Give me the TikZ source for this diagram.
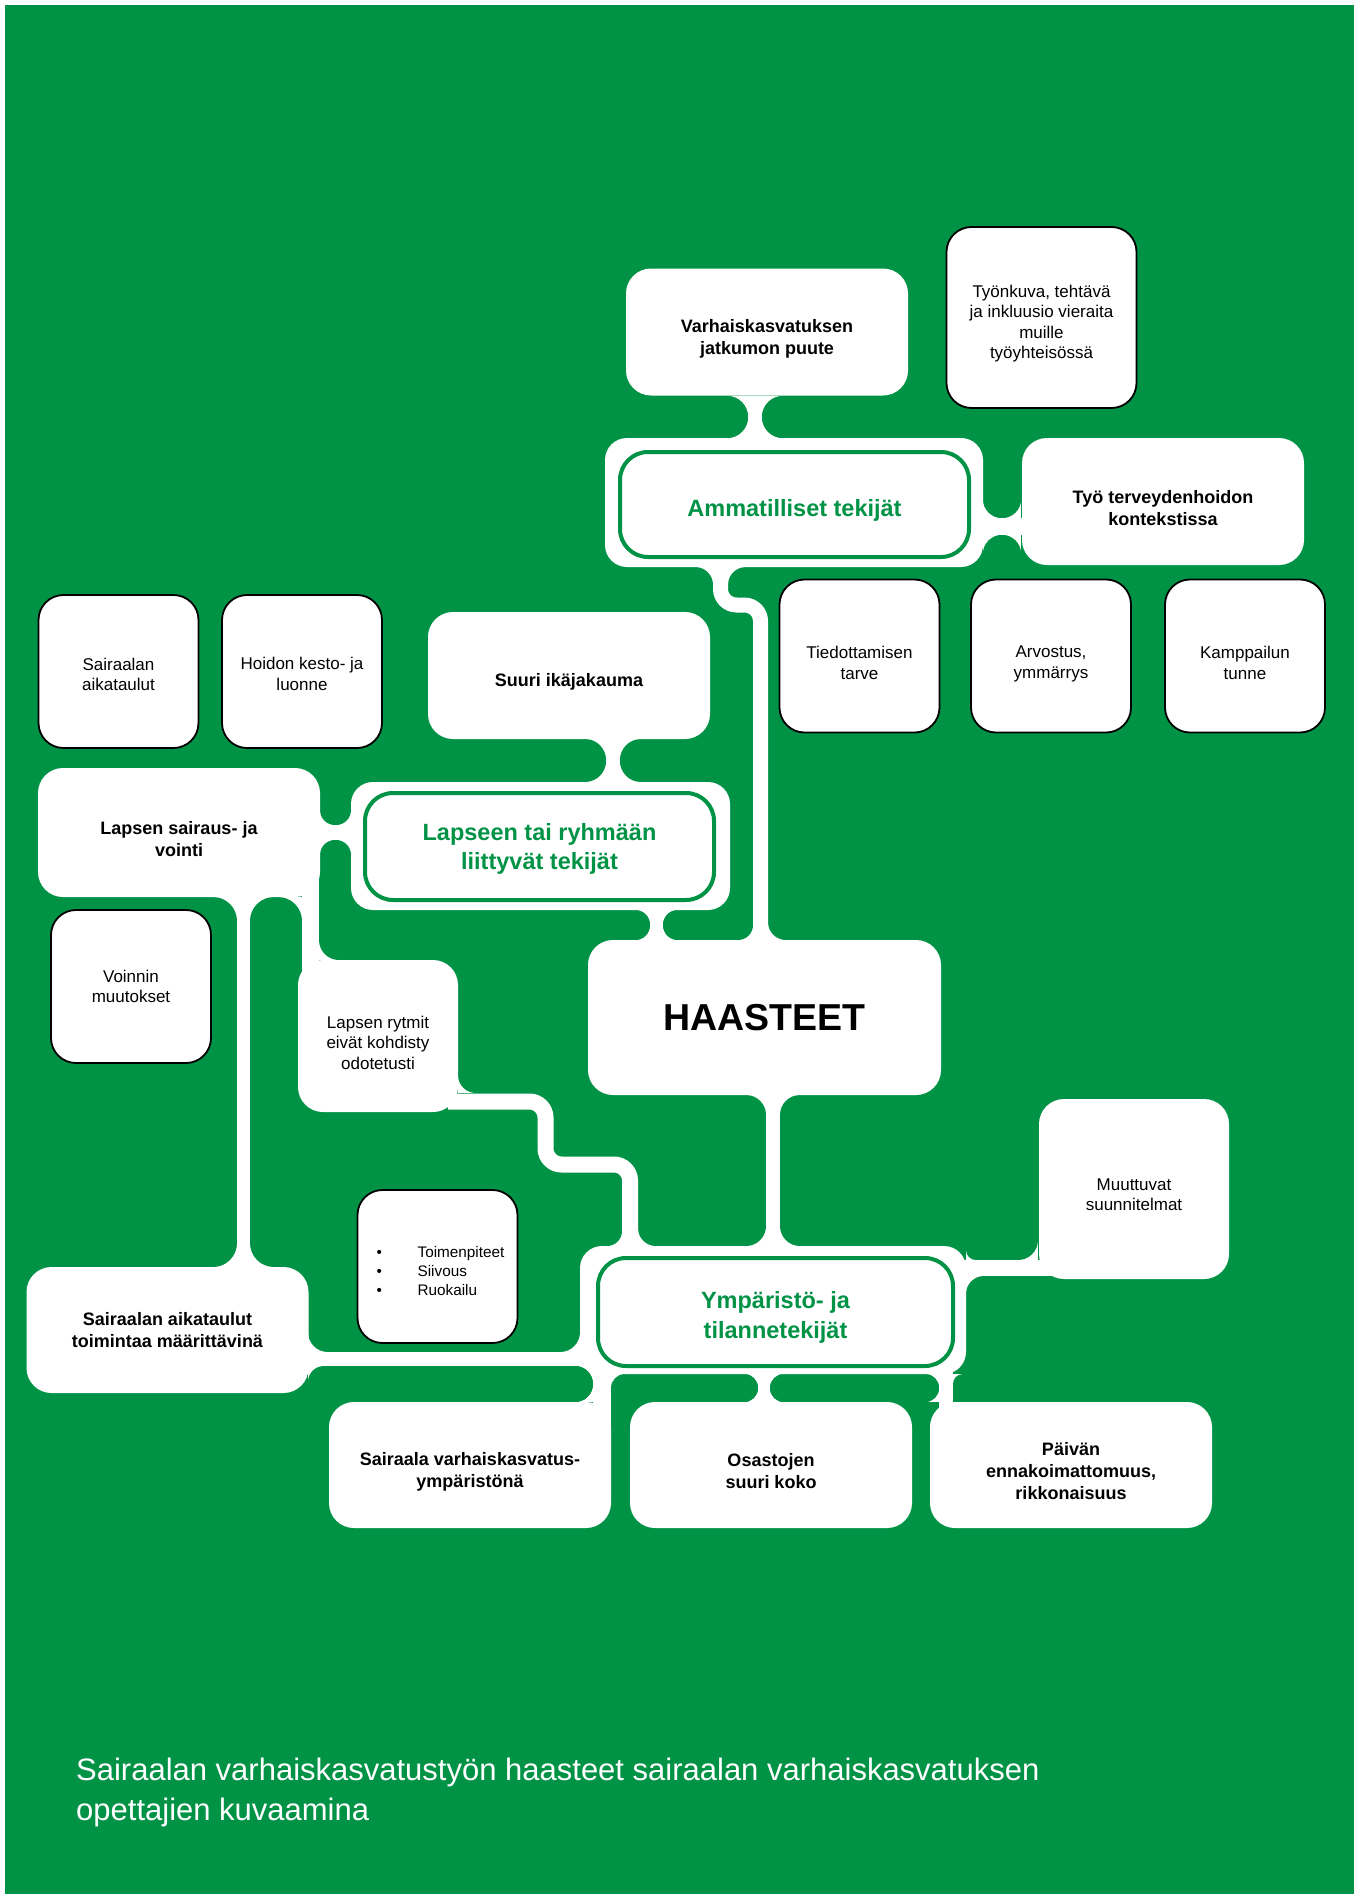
\documentclass[tikz,border=0pt]{standalone}
\usepackage{fontspec}
\setmainfont{Liberation Sans}
\usetikzlibrary{calc}
\definecolor{leaf}{RGB}{0,147,70}
\newcommand{\lift}[1][26]{\rule{0pt}{#1pt}}

\pgfdeclarelayer{base}
\pgfdeclarelayer{links}
\pgfsetlayers{base,links,main}

\tikzstyle{cell}=[inner sep=0pt, outer sep=0pt, align=center, fill=white, rounded corners=25pt, font=\fontsize{17}{20.5}\selectfont]
\tikzstyle{strong}=[cell, font=\fontsize{18}{22}\selectfont\bfseries]
\tikzstyle{ruled}=[cell, draw=black, line width=1.8pt]
\tikzstyle{holder}=[cell, rounded corners=22pt]
\tikzstyle{topic}=[cell, draw=leaf, line width=4pt, rounded corners=28pt, text=leaf, font=\fontsize{23.5}{29.3}\selectfont\bfseries]
\tikzstyle{neck}=[white, line width=14pt]
\tikzstyle{wbox}=[minimum width=282pt, minimum height=127pt]
\tikzstyle{sbox}=[minimum width=160pt, minimum height=153pt]
\tikzstyle{tbox}=[minimum width=190pt, minimum height=181pt]

\begin{document}
\begin{tikzpicture}[x=1pt, y=-1pt]
\useasboundingbox (0,0) rectangle (1353,1894);
\begin{pgfonlayer}{base}
  \fill[white] (0,0) rectangle (1353,1894);
  \fill[leaf] (5,5) rectangle (1365,1905);
\end{pgfonlayer}

% Ammatilliset tekijat
\node[holder, minimum width=378pt, minimum height=129pt] at (794,502.5) (ammbg) {};
\node[topic, minimum width=349pt, minimum height=105pt] at (794.5,504.5) (amm) {\lift[29.5]Ammatilliset tekijät};
\node[strong, wbox] at (767,332) (varh) {\lift Varhaiskasvatuksen\\jatkumon puute};
\node[ruled, tbox] at (1041.5,317.5) (tyonk) {\lift[25]Työnkuva, tehtävä\\ja inkluusio vieraita\\muille\\työyhteisössä};
\node[strong, wbox] at (1163,501.5) (tyo) {\lift Työ terveydenhoidon\\kontekstissa};
\node[ruled, sbox] at (859.5,656) (tied) {\lift Tiedottamisen\\tarve};
\node[ruled, sbox] at (1051,656) (arvo) {\lift[28]Arvostus,\\ymmärrys};
\node[ruled, sbox] at (1245,656) (kamp) {\lift Kamppailun\\tunne};

% Lapseen tai ryhmaan liittyvat tekijat
\node[holder, minimum width=379pt, minimum height=128pt] at (540.5,846) (lapbg) {};
\node[topic, minimum width=349pt, minimum height=107pt] at (539.5,846.5) (lap) {\lift[21.5]Lapseen tai ryhmään\\liittyvät tekijät};
\node[ruled, sbox] at (118.5,671.5) (saira) {\lift[18]Sairaalan\\aikataulut};
\node[ruled, sbox] at (302,671.5) (hoid) {\lift[17]Hoidon kesto- ja\\luonne};
\node[strong, wbox] at (569,675.5) (suuri) {\lift Suuri ikäjakauma};
\node[strong, wbox, minimum height=129pt] at (179,832.5) (laps) {\lift Lapsen sairaus- ja\\vointi};
\node[ruled, sbox] at (131,986.5) (voin) {Voinnin\\muutokset};
\node[cell, sbox, minimum height=152pt] at (378,1036) (lapr) {\lift Lapsen rytmit\\eivät kohdisty\\odotetusti};

% keskella
\node[cell, minimum width=353pt, minimum height=155pt, font=\fontsize{37.5}{40}\selectfont\bfseries] at (764.5,1017.5) (haas) {HAASTEET};

% Ymparisto- ja tilannetekijat
\node[holder, minimum width=386pt, minimum height=128pt] at (773,1310) (ympbg) {};
\node[topic, minimum width=355pt, minimum height=108pt] at (775.5,1312) (ymp) {\lift[28]Ympäristö- ja\\tilannetekijät};
\node[cell, tbox, minimum height=180pt] at (1134,1189) (muut) {\lift[23]Muuttuvat\\suunnitelmat};
\node[ruled, sbox] at (437.5,1266.5) (toim) {};
\node[align=left, inner sep=0pt, font=\fontsize{15.3}{19}\selectfont] at (440.5,1271) (toimlist) {\makebox[41pt][l]{\textbullet}Toimenpiteet\\\makebox[41pt][l]{\textbullet}Siivous\\\makebox[41pt][l]{\textbullet}Ruokailu};
\node[strong, wbox, minimum height=126pt] at (167.5,1330) (sairt) {Sairaalan aikataulut\\toimintaa määrittävinä};
\node[strong, wbox, minimum height=126pt] at (470,1465) (sairaala) {\lift Sairaala varhaiskasvatus-\\ympäristönä};
\node[strong, wbox, minimum height=126pt] at (771,1465) (osast) {\lift Osastojen\\suuri koko};
\node[strong, wbox, minimum height=126pt] at (1071,1465) (paiv) {\lift Päivän\\ennakoimattomuus,\\rikkonaisuus};

\node[anchor=west, align=left, text=white, inner sep=0pt, font=\fontsize{31}{40}\selectfont] at (76,1792) (title) {Sairaalan varhaiskasvatustyön haasteet sairaalan varhaiskasvatuksen\\opettajien kuvaamina};

% kaulat ja pyoristykset
\def\fillets{748/396/-1/1/21, 748/438/-1/-1/21, 762/396/1/1/21, 762/438/1/-1/21,
  983/518/1/-1/19, 1021/518/-1/-1/19, 983/535/1/1/19, 1021/535/-1/1/19,
  713/567/-1/1/18, 728/567/1/1/18, 753/940/-1/-1/15, 768/940/1/-1/18,
  606/739/-1/1/21, 606/782/-1/-1/21, 620/739/1/1/21, 620/782/1/-1/21,
  320/825/1/-1/15, 351/825/-1/-1/15, 320/840/1/1/15, 351/840/-1/1/15,
  302/897/-1/1/24, 319/960/1/-1/20,
  237/897/-1/1/24, 250/897/1/1/24, 237/1267/-1/-1/24, 250/1267/1/-1/24,
  650/910/-1/1/15, 650/940/-1/-1/15, 663/910/1/1/15, 663/940/1/-1/15,
  458/1093/1/-1/18, 622/1246/-1/-1/15, 638/1246/1/-1/18,
  766/1095/-1/1/20, 780/1095/1/1/20, 766/1246/-1/-1/20, 780/1246/1/-1/20,
  308/1352/1/-1/20, 308/1366/1/1/16, 580/1352/-1/-1/20,
  593/1366/-1/1/18, 593/1402/-1/-1/18, 611/1374/1/1/14,
  758/1374/-1/1/14, 758/1402/-1/-1/14, 770/1374/1/1/14, 770/1402/1/-1/14,
  939/1374/-1/1/14, 939/1402/-1/-1/14, 953/1374/1/1/10,
  966/1260/1/-1/10, 966/1276/1/1/18, 1038/1260/-1/-1/20}
\begin{pgfonlayer}{links}
  \foreach \x/\y/\sx/\sy/\rad in \fillets
    \fill[white] (\x,\y) rectangle ++(\sx*\rad,\sy*\rad);
  \foreach \x/\y/\sx/\sy/\rad in \fillets
    \fill[leaf] (\x+\sx*\rad,\y+\sy*\rad) circle (\rad pt);

  \draw[neck] ($(varh.south)+(-12,0)$) -- ($(ammbg.north)+(-39,0)$);
  \draw[neck, line width=17pt] ($(ammbg.east)+(-10,24)$) -- ($(tyo.west)+(10,25)$);
  \draw[neck, line width=15pt, rounded corners=16pt] ($(ammbg.south)+(-73.5,-10)$) -- ++(0,48) -| ($(haas.north)+(-4,10)$);
  \draw[neck] ($(suuri.south)+(44,-10)$) -- ($(lapbg.north)+(72.5,10)$);
  \draw[neck, line width=15pt] ($(laps.east)+(-10,0)$) -- ($(lapbg.west)+(10,-13.5)$);
  \draw[neck, line width=17pt] ($(laps.south east)+(-9.5,-25)$) -- ($(lapr.north west)+(12.5,25)$);
  \draw[neck, line width=13pt] ($(laps.south)+(64.5,-10)$) -- ($(sairt.north)+(76,10)$);
  \draw[neck, line width=13pt] ($(lapbg.south)+(116,-10)$) -- ($(haas.north)+(-108,10)$);
  \draw[neck, line width=16pt, rounded corners=16pt] ($(lapr.east)+(-10,65.5)$) -- ++(97.5,0) -- ++(0,63) -| ($(ympbg.north)+(-143,10)$);
  \draw[neck] ($(haas.south)+(8.5,-10)$) -- ($(ympbg.north)+(0,10)$);
  \draw[neck] ($(sairt.east)+(-10,29)$) -- ($(ympbg.west)+(20,49)$);
  \draw[neck, line width=18pt] ($(ympbg.south)+(-171,-20)$) -- ($(sairaala.north)+(132,25)$);
  \draw[neck, line width=12pt] ($(ympbg.south)+(-9,-10)$) -- ($(osast.north)+(-7,10)$);
  \draw[neck] ($(ympbg.south)+(173,-20)$) -- ($(paiv.north)+(-125,25)$);
  \draw[neck, line width=16pt] ($(ympbg.east)+(-10,-42)$) -- ($(muut.west)+(20,79)$);
\end{pgfonlayer}
\end{tikzpicture}
\end{document}
